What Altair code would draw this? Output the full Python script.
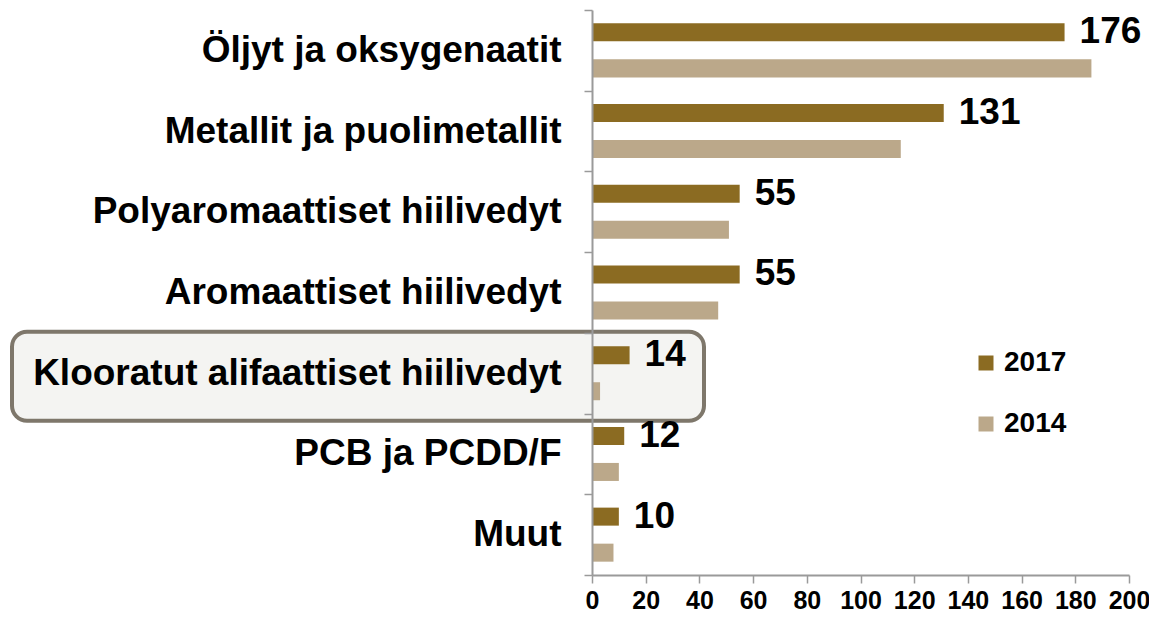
import altair as alt
import pandas as pd

categories = [
    "Öljyt ja oksygenaatit",
    "Metallit ja puolimetallit",
    "Polyaromaattiset hiilivedyt",
    "Aromaattiset hiilivedyt",
    "Klooratut alifaattiset hiilivedyt",
    "PCB ja PCDD/F",
    "Muut",
]
years = ["2017", "2014"]
values_2017 = [176, 131, 55, 55, 14, 12, 10]
values_2014 = [186, 115, 51, 47, 3, 10, 8]
x_ticks = [0, 20, 40, 60, 80, 100, 120, 140, 160, 180, 200]
highlight = "Klooratut alifaattiset hiilivedyt"
colors = ["#8B6B22", "#BBA88A"]

rows = []
for c, a, b in zip(categories, values_2017, values_2014):
    rows.append({"cat": c, "year": "2017", "value": a})
    rows.append({"cat": c, "year": "2014", "value": b})
df = pd.DataFrame(rows)
hl = pd.DataFrame({"cat": [highlight]})

FONT = "Liberation Sans"
AX = "#9A9A9A"

y_enc = alt.Y(
    "cat:N",
    sort=categories,
    scale=alt.Scale(domain=categories, paddingInner=0, paddingOuter=0),
    axis=alt.Axis(
        title=None,
        labelFont=FONT,
        labelFontSize=37,
        labelFontWeight="bold",
        labelColor="#000000",
        labelPadding=23,
        labelLimit=700,
        tickBand="extent",
        tickSize=8,
        tickColor=AX,
        tickWidth=1.5,
        domainColor=AX,
        domainWidth=2,
        zindex=1,
    ),
)
x_enc = alt.X(
    "value:Q",
    scale=alt.Scale(domain=[0, 200], nice=False),
    axis=alt.Axis(
        title=None,
        values=x_ticks,
        grid=False,
        labelFont=FONT,
        labelFontSize=25,
        labelFontWeight="bold",
        labelColor="#000000",
        labelPadding=5,
        labelFlush=False,
        labelOverlap=False,
        tickSize=8,
        tickColor=AX,
        tickWidth=1.5,
        domainColor=AX,
        domainWidth=2,
        zindex=1,
    ),
)
yoff = alt.YOffset(
    "year:N",
    sort=years,
    scale=alt.Scale(domain=years, paddingInner=0.5, paddingOuter=0.37),
)

box = alt.Chart(hl).mark_bar(
    height=89,
    yOffset=3,
    cornerRadius=15,
    fill="#F4F4F2",
    stroke="#7E776B",
    strokeWidth=4,
).encode(
    y=alt.Y("cat:N", sort=categories),
    x=alt.value(-580),
    x2=alt.value(112),
)

bars = alt.Chart(df).mark_bar().encode(
    y=y_enc,
    x=x_enc,
    yOffset=yoff,
    color=alt.Color(
        "year:N",
        sort=years,
        scale=alt.Scale(domain=years, range=colors),
        legend=alt.Legend(
            title=None,
            orient="none",
            legendX=380,
            legendY=339,
            padding=0,
            symbolType="square",
            symbolSize=225,
            symbolStrokeWidth=0,
            labelFont=FONT,
            labelFontSize=28,
            labelFontWeight="bold",
            labelColor="#000000",
            labelOffset=4,
            rowPadding=33,
        ),
    ),
)

labels = alt.Chart(df).transform_filter(
    alt.datum.year == "2017"
).mark_text(
    align="left",
    baseline="middle",
    dx=15,
    font=FONT,
    fontSize=37,
    fontWeight="bold",
    color="#000000",
).encode(
    y=alt.Y("cat:N", sort=categories),
    x=alt.X("value:Q"),
    yOffset=alt.YOffset("year:N", sort=years),
    text=alt.Text("value:Q"),
)

chart = alt.layer(box, bars, labels).properties(
    width=537,
    height=565,
    autosize=alt.AutoSizeParams(type="none"),
    padding={"left": 584, "top": 2, "right": 20, "bottom": 42},
    background="#FFFFFF",
).configure_view(stroke=None)

chart.save("out.html", embed_options={"renderer": "svg", "actions": False})
